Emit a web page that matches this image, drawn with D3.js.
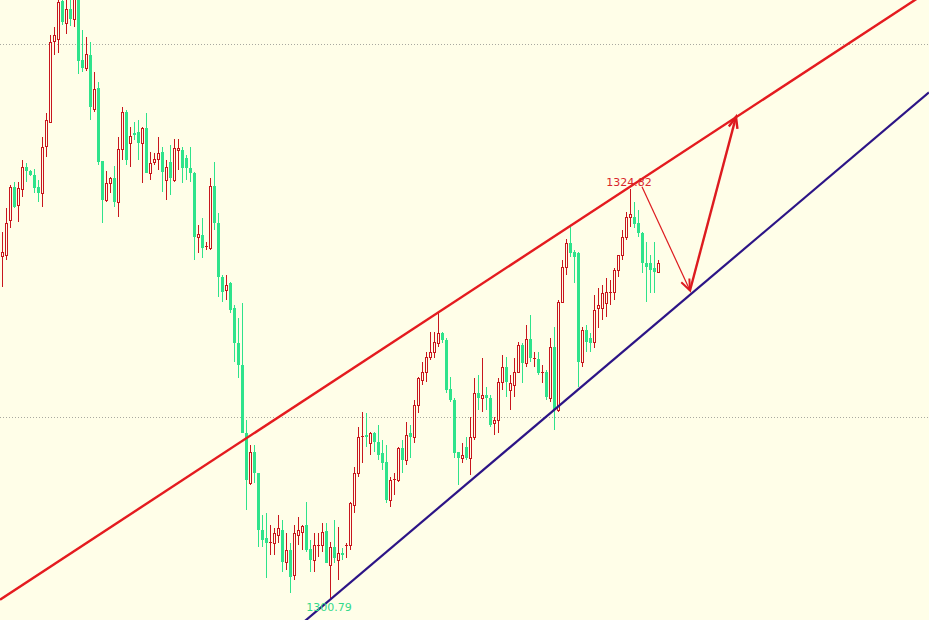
<!DOCTYPE html>
<html>
<head>
<meta charset="utf-8">
<script src="https://cdn.jsdelivr.net/npm/d3@7"></script>
<style>
html,body{margin:0;padding:0;background:#fffee8;overflow:hidden;}
svg{display:block;}
</style>
</head>
<body>
<script>
// ---- Data ----
const opens = [
1320.88,1320.94,1322.99,1324.93,1323.88,1324.82,1326.11,1325.87,1325.64,1324.93,
1324.58,1327.34,1328.75,1333.51,1333.63,1335.86,1334.57,1335.39,1334.80,1336.04,
1332.39,1331.92,1332.69,1329.52,1330.75,1326.46,1324.17,1325.17,1325.46,1324.05,
1327.17,1329.34,1327.52,1328.11,1328.16,1327.52,1328.40,1325.76,1326.40,1326.58,
1326.99,1325.34,1326.40,1325.34,1327.11,1327.11,1326.64,1326.05,1325.76,1322.00,
1322.11,1321.41,1321.35,1324.99,1322.82,1319.65,1318.88,1319.29,1317.82,1315.77,
1314.48,1310.48,1307.54,1309.36,1308.13,1304.78,1304.31,1304.02,1304.02,1304.49,
1304.78,1302.90,1303.61,1302.14,1304.49,1304.66,1305.08,1303.67,1303.02,1303.84,
1303.90,1304.72,1302.73,1303.78,1303.02,1303.43,1303.84,1303.90,1306.25,1308.13,
1310.25,1310.36,1309.89,1310.48,1309.95,1309.31,1308.78,1306.54,1307.72,1307.72,
1309.60,1308.89,1310.48,1310.25,1312.13,1313.59,1314.06,1314.95,1315.24,1315.77,
1316.36,1315.94,1313.07,1312.42,1309.36,1309.01,1309.66,1309.01,1310.25,1312.83,
1312.54,1312.71,1312.54,1311.07,1311.24,1313.48,1314.36,1313.01,1313.30,1314.06,
1315.65,1314.59,1316.00,1314.83,1314.83,1314.01,1314.06,1312.54,1315.53,1311.83,
1318.18,1320.23,1321.64,1321.11,1321.06,1314.65,1316.53,1316.06,1315.83,1317.82,
1317.82,1318.12,1318.71,1318.76,1320.06,1320.94,1322.00,1323.17,1323.17,1322.82,
1322.23,1320.47,1320.47,1320.17,1319.94
];
const highs = [
1322.29,1323.70,1325.05,1325.23,1325.23,1326.52,1326.34,1325.93,1325.99,1325.34,
1327.87,1329.28,1333.86,1334.33,1336.16,1336.21,1336.10,1336.04,1336.27,1336.39,
1334.16,1333.75,1333.45,1331.69,1331.10,1326.46,1325.87,1325.52,1326.17,1327.87,
1329.63,1329.46,1328.46,1328.75,1328.87,1328.46,1329.28,1326.99,1326.93,1327.87,
1327.28,1326.52,1327.40,1327.75,1327.75,1327.28,1326.81,1327.28,1325.81,1322.70,
1323.11,1321.70,1325.46,1326.40,1323.41,1319.76,1319.76,1319.35,1318.00,1317.24,
1318.12,1311.24,1309.78,1309.78,1308.13,1305.66,1305.78,1305.08,1304.90,1305.66,
1305.37,1304.61,1304.02,1305.08,1305.55,1305.08,1306.43,1304.19,1304.61,1304.61,
1305.19,1305.19,1304.08,1305.37,1304.96,1303.72,1304.02,1306.43,1308.48,1310.83,
1311.71,1311.66,1310.54,1310.54,1310.95,1310.07,1309.78,1307.90,1308.13,1309.66,
1310.07,1311.13,1310.95,1312.42,1313.77,1314.65,1315.24,1316.41,1316.41,1317.53,
1316.41,1316.06,1313.77,1312.54,1309.36,1309.89,1310.25,1311.42,1313.71,1313.89,
1314.89,1313.18,1312.71,1311.42,1313.71,1315.06,1314.95,1313.89,1314.89,1315.83,
1315.77,1316.83,1317.41,1315.24,1315.24,1314.48,1314.18,1316.06,1316.71,1318.29,
1320.64,1321.88,1322.58,1321.23,1321.11,1316.71,1316.83,1316.36,1318.59,1319.00,
1319.18,1319.59,1319.47,1320.17,1320.94,1322.41,1323.46,1324.82,1324.05,1323.58,
1322.29,1321.70,1320.94,1321.70,1320.64
];
const lows = [
1319.06,1320.64,1322.52,1323.70,1322.88,1324.35,1325.23,1325.58,1324.58,1324.05,
1323.76,1326.70,1328.69,1332.69,1332.81,1334.45,1333.92,1334.39,1334.33,1331.57,
1331.69,1331.75,1328.87,1329.34,1326.23,1322.82,1324.05,1324.58,1323.76,1323.17,
1326.52,1326.23,1326.11,1327.69,1326.52,1325.17,1325.76,1325.34,1326.23,1325.93,
1324.64,1324.17,1324.46,1325.23,1325.93,1325.17,1325.34,1325.23,1320.64,1321.06,
1320.76,1321.23,1321.23,1322.41,1318.47,1318.18,1318.29,1317.53,1314.65,1313.71,
1310.48,1305.96,1307.43,1307.54,1303.78,1303.78,1301.96,1303.31,1303.31,1304.02,
1302.31,1302.43,1301.08,1301.84,1303.90,1303.61,1303.49,1302.31,1302.31,1303.20,
1303.49,1302.84,1300.79,1302.84,1301.84,1303.02,1303.14,1303.61,1305.78,1307.90,
1308.72,1309.66,1309.19,1309.36,1308.89,1308.31,1306.37,1306.13,1306.84,1307.60,
1308.13,1308.60,1309.01,1309.89,1311.66,1313.30,1313.48,1314.77,1314.89,1315.53,
1315.77,1312.83,1312.30,1309.01,1307.43,1308.72,1308.89,1308.01,1310.07,1311.83,
1311.71,1311.83,1310.83,1310.36,1310.48,1313.01,1312.60,1311.83,1312.60,1314.01,
1313.42,1314.36,1314.65,1314.36,1313.89,1313.42,1312.42,1312.30,1310.66,1311.71,
1318.12,1319.76,1320.82,1319.29,1313.18,1314.36,1315.24,1315.24,1315.47,1316.65,
1317.12,1317.30,1318.00,1318.29,1319.65,1320.64,1321.82,1322.58,1322.52,1322.00,
1319.88,1318.18,1318.71,1318.71,1319.88
];
const closes = [
1321.11,1322.82,1324.93,1323.76,1324.87,1326.11,1325.87,1325.64,1324.87,1324.58,
1327.28,1328.87,1333.45,1333.86,1335.80,1334.63,1335.39,1334.80,1335.98,1332.34,
1331.92,1332.75,1329.63,1330.69,1326.40,1324.17,1325.17,1325.46,1324.05,1327.17,
1329.34,1326.52,1327.93,1327.99,1327.52,1328.40,1325.76,1326.34,1326.58,1326.93,
1325.81,1326.11,1325.46,1327.22,1327.22,1326.05,1326.05,1325.76,1322.00,1322.17,
1321.35,1321.47,1324.99,1322.82,1319.65,1318.76,1319.18,1317.71,1315.77,1314.48,
1310.48,1307.72,1309.36,1308.13,1304.78,1304.19,1304.02,1304.08,1304.61,1304.90,
1302.90,1303.61,1302.02,1304.61,1304.78,1305.02,1303.61,1303.02,1303.90,1303.90,
1304.66,1302.84,1303.78,1303.14,1303.43,1303.31,1303.90,1306.37,1308.13,1310.25,
1310.30,1310.25,1310.48,1309.95,1309.19,1308.72,1306.54,1307.72,1307.78,1309.60,
1308.89,1310.36,1310.25,1312.13,1313.71,1314.06,1314.95,1315.24,1315.83,1316.36,
1315.94,1313.01,1312.42,1309.31,1309.01,1309.19,1309.01,1310.25,1312.83,1312.54,
1312.71,1312.54,1310.95,1311.24,1313.48,1314.36,1313.48,1313.42,1314.06,1315.65,
1314.59,1316.00,1314.89,1314.89,1314.01,1314.06,1312.60,1315.53,1311.83,1318.18,
1320.23,1321.64,1321.06,1320.82,1314.65,1316.53,1315.83,1315.77,1317.71,1318.00,
1318.71,1318.76,1318.76,1320.06,1320.94,1322.00,1323.17,1323.35,1322.76,1322.23,
1320.47,1320.23,1320.06,1319.94,1320.47
];
const gridLevels = [1333.33, 1311.42];
const upperChannel = [{i: 40, p: 1306.92}, {i: 190, p: 1330.03}];
const lowerChannel = [{i: 82, p: 1300.68}, {i: 190, p: 1322.18}];
const arrowDown = [{i: 160, p: 1324.95}, {i: 172, p: 1318.85}];
const arrowUp = [{i: 172, p: 1318.85}, {i: 183.5, p: 1329.05}];
const highLabelIndex = 157;   // 1324.82
const lowLabelIndex = 82;     // 1300.79

// ---- Setup ----
const W = 929, H = 620;
const BG = "#fffee8", UP = "#c8161d", DOWN = "#2ee38b";
const svg = d3.select("body").append("svg").attr("width", W).attr("height", H);
svg.append("rect").attr("width", W).attr("height", H).attr("fill", BG);

const n = opens.length;
const x = d3.scaleLinear().domain([0, n - 1]).range([2, 2 + 4 * (n - 1)]);
const y = d3.scaleLinear().domain([1299.49, 1335.92]).range([H, 0]);

const candles = d3.range(n).map(i => ({i, o: opens[i], h: highs[i], l: lows[i], c: closes[i]}));

// grid
svg.append("g").selectAll("line").data(gridLevels).join("line")
  .attr("x1", 0).attr("x2", W)
  .attr("y1", d => Math.round(y(d)) + 0.5).attr("y2", d => Math.round(y(d)) + 0.5)
  .attr("stroke", "#a9a9a0").attr("stroke-width", 1).attr("stroke-dasharray", "1,2");

// candles
const g = svg.append("g").attr("shape-rendering", "crispEdges");
candles.forEach(d => {
  const cx = Math.round(x(d.i));
  const up = d.c >= d.o;
  const col = up ? UP : DOWN;
  const yh = Math.round(y(d.h)), yl = Math.round(y(d.l));
  g.append("rect").attr("x", cx).attr("y", yh).attr("width", 1).attr("height", Math.max(1, yl - yh)).attr("fill", col);
  const top = Math.round(y(Math.max(d.o, d.c)));
  const bot = Math.round(y(Math.min(d.o, d.c)));
  const bh = bot - top;
  if (up) {
    if (bh <= 1) {
      g.append("rect").attr("x", cx - 1).attr("y", top).attr("width", 3).attr("height", 1).attr("fill", col);
    } else {
      g.append("rect").attr("x", cx - 0.5).attr("y", top + 0.5).attr("width", 2).attr("height", bh)
        .attr("fill", BG).attr("stroke", col).attr("stroke-width", 1);
    }
  } else {
    g.append("rect").attr("x", cx - 1).attr("y", top).attr("width", 3).attr("height", Math.max(1, bh)).attr("fill", col);
  }
});

// channel lines, extended across the view
function extended(a) {
  const slope = (a[1].p - a[0].p) / (a[1].i - a[0].i);
  const i0 = x.invert(0), i1 = x.invert(W);
  return [[0, y(a[0].p + slope * (i0 - a[0].i))], [W, y(a[0].p + slope * (i1 - a[0].i))]];
}
const line = d3.line();
svg.append("path").attr("d", line(extended(upperChannel))).attr("stroke", "#e41b1f").attr("stroke-width", 2.4).attr("fill", "none");
svg.append("path").attr("d", line(extended(lowerChannel))).attr("stroke", "#2c1486").attr("stroke-width", 2.2).attr("fill", "none");

// arrows
function arrow(pts, lw, hw) {
  const p = pts.map(d => [x(d.i), y(d.p)]);
  svg.append("path").attr("d", line(p)).attr("stroke", "#dd1b1f").attr("stroke-width", lw).attr("fill", "none");
  const [ax, ay] = p[0], [bx, by] = p[1];
  const ang = Math.atan2(by - ay, bx - ax);
  const L = 12, spread = 0.38;
  const h1 = [bx - L * Math.cos(ang - spread), by - L * Math.sin(ang - spread)];
  const h2 = [bx - L * Math.cos(ang + spread), by - L * Math.sin(ang + spread)];
  svg.append("path").attr("d", line([h1, [bx, by], h2])).attr("stroke", "#dd1b1f").attr("stroke-width", hw)
    .attr("fill", "none").attr("stroke-linejoin", "miter");
}
arrow(arrowDown, 1.2, 2);
arrow(arrowUp, 2.4, 2.4);

// labels
svg.append("text").attr("x", x(highLabelIndex) - 1).attr("y", y(highs[highLabelIndex]) - 3)
  .attr("text-anchor", "middle").attr("font-family", "DejaVu Sans, sans-serif").attr("font-size", 11)
  .attr("fill", "#d9262b").text(highs[highLabelIndex].toFixed(2));
svg.append("text").attr("x", x(lowLabelIndex) - 1).attr("y", y(lows[lowLabelIndex]) + 13)
  .attr("text-anchor", "middle").attr("font-family", "DejaVu Sans, sans-serif").attr("font-size", 11)
  .attr("fill", "#33d98a").text(lows[lowLabelIndex].toFixed(2));
</script>
</body>
</html>
